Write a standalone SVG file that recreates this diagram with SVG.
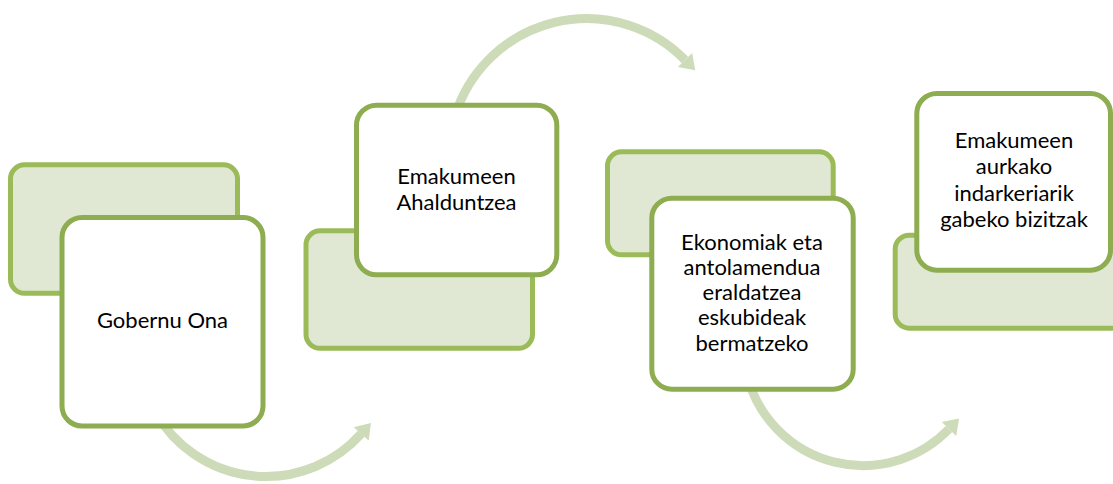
<svg xmlns="http://www.w3.org/2000/svg" width="1113" height="484" viewBox="0 0 1113 484">
<style>
.back{fill:#e0e8d4;stroke:#9bbb59;stroke-width:5}
.front{fill:#ffffff;stroke:#8eac50;stroke-width:5}
.arc{fill:none;stroke:#cddbb8;stroke-width:9}
.lbl{font-family:Lato,"Open Sans","Liberation Sans",sans-serif;font-size:22px;fill:#000;text-anchor:middle}
</style>
<defs>
<marker id="head" markerUnits="userSpaceOnUse" markerWidth="20" markerHeight="24" viewBox="0 -12 16 24" refX="0" refY="0" orient="auto">
<path d="M0,-10 L14.5,0 L0,10 z" fill="#cddbb8"/>
</marker>
</defs>
<rect width="1113" height="484" fill="#ffffff"/>
<g id="connectors">
<path class="arc" marker-end="url(#head)" d="M155.6,412.8 A127.5,127.5 0 0 0 361.2,433.8"/>
<path class="arc" marker-end="url(#head)" d="M455.3,115 A137.7,137.7 0 0 1 685,60"/>
<path class="arc" marker-end="url(#head)" d="M748.4,380 A119.5,119.5 0 0 0 949,429"/>
</g>
<g id="node1">
<rect class="back" x="10.5" y="164.8" width="227" height="128.5" rx="14"/>
<rect class="front" x="62" y="217.5" width="201" height="208.5" rx="20"/>
<text class="lbl" x="162.5" y="328.3">Gobernu Ona</text>
</g>
<g id="node2">
<rect class="back" x="306" y="230.8" width="226.5" height="117.5" rx="14"/>
<rect class="front" x="356.5" y="105.2" width="200.3" height="169.6" rx="20"/>
<text class="lbl" x="456.5" y="184.3">Emakumeen</text>
<text class="lbl" x="456.5" y="210">Ahalduntzea</text>
</g>
<g id="node3">
<rect class="back" x="607.5" y="151.8" width="225.7" height="103" rx="14"/>
<rect class="front" x="651.8" y="198.2" width="201.4" height="191" rx="20"/>
<text class="lbl" x="752" y="250">Ekonomiak eta</text>
<text class="lbl" x="752" y="275">antolamendua</text>
<text class="lbl" x="752" y="300">eraldatzea</text>
<text class="lbl" x="752" y="325">eskubideak</text>
<text class="lbl" x="752" y="350.5">bermatzeko</text>
</g>
<g id="node4">
<rect class="back" x="895.2" y="235.2" width="240" height="93" rx="14"/>
<rect class="front" x="916.8" y="93.5" width="193.7" height="176.7" rx="20"/>
<text class="lbl" x="1014" y="148.3">Emakumeen</text>
<text class="lbl" x="1014" y="174.4">aurkako</text>
<text class="lbl" x="1014" y="200.6">indarkeriarik</text>
<text class="lbl" x="1014" y="226.7">gabeko bizitzak</text>
</g>
</svg>
